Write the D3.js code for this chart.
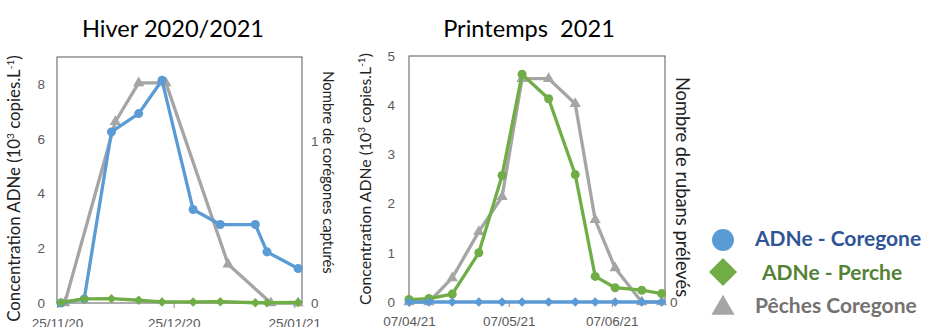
<!DOCTYPE html>
<html>
<head>
<meta charset="utf-8">
<script src="https://cdn.jsdelivr.net/npm/d3@7"></script>
<style>
  body { margin: 0; background: #fff; }
  svg { display: block; font-family: Lato, "Open Sans", sans-serif; }
  .tick text { fill: #595959; font-size: 13.5px; }
  .tick line { stroke: #868686; }
</style>
</head>
<body>
<div id="graph"></div>
<script>
// Hiver 2020/2021
var hiverDates = ["2020-11-26", "2020-12-02", "2020-12-09", "2020-12-16", "2020-12-22",
                  "2020-12-30", "2021-01-06", "2021-01-15", "2021-01-18", "2021-01-26"];
var hiverCoregone = [0, 0.15, 6.26, 6.93, 8.15, 3.42, 2.87, 2.87, 1.87, 1.26];
var hiverPerche = [0.02, 0.15, 0.16, 0.1, 0.04, 0.04, 0.05, 0.01, 0.01, 0.02];
var hiverPecheDates = ["2020-11-27", "2020-12-10", "2020-12-16", "2020-12-23",
                       "2021-01-08", "2021-01-19", "2021-01-26"];
var hiverPeche = [0, 1.12, 1.36, 1.36, 0.24, 0, 0];
var hiverTicks = ["2020-11-25", "2020-12-25", "2021-01-25"];

// Printemps 2021
var printempsDates = ["2021-04-07", "2021-04-13", "2021-04-20", "2021-04-28", "2021-05-05", "2021-05-11",
                      "2021-05-19", "2021-05-27", "2021-06-02", "2021-06-08", "2021-06-16", "2021-06-22"];
var printempsCoregone = [0, 0, 0, 0, 0, 0, 0, 0, 0, 0, 0, 0];
var printempsPerche = [0.05, 0.07, 0.16, 1.0, 2.57, 4.63, 4.13, 2.59, 0.52, 0.29, 0.24, 0.17];
var printempsRubans = [0, 0, 0.49, 1.43, 2.14, 4.54, 4.54, 4.03, 1.67, 0.69, 0, 0];
var printempsTicks = ["2021-04-07", "2021-05-07", "2021-06-07"];

var parse = d3.timeParse("%Y-%m-%d");
var fmt = d3.timeFormat("%d/%m/%y");

var blue = "#5b9bd5", green = "#70ad47", grey = "#a5a5a5";

var svg = d3.select("#graph").append("svg")
    .attr("width", 927)
    .attr("height", 327);

function marker(type, size) {
    if (type == "circle") return d3.symbol().type(d3.symbolCircle).size(size)();
    if (type == "diamond") return d3.symbol().type(d3.symbolSquare).size(size)();
    return d3.symbol().type(d3.symbolTriangle).size(size)();
}

function drawSeries(g, x, y, dates, values, color, type, size) {
    var pts = dates.map(function(d, i) { return {date: parse(d), v: values[i]}; });
    var line = d3.line()
        .x(function(d) { return x(d.date); })
        .y(function(d) { return y(d.v); });
    g.append("path")
        .datum(pts)
        .attr("fill", "none")
        .attr("stroke", color)
        .attr("stroke-width", 3.3)
        .attr("stroke-linejoin", "round")
        .attr("d", line);
    g.selectAll(null)
        .data(pts)
        .enter().append("path")
        .attr("d", marker(type, size))
        .attr("fill", color)
        .attr("transform", function(d) {
            return "translate(" + x(d.date) + "," + y(d.v) + ")" + (type == "diamond" ? " rotate(45)" : "");
        });
}

function yTitle(g, cx, cy, size) {
    var sup = Math.round(size * 0.62);
    var t = g.append("text")
        .attr("transform", "translate(" + cx + "," + cy + ") rotate(-90)")
        .attr("text-anchor", "middle")
        .attr("dy", "0.35em")
        .style("font-size", size + "px")
        .attr("fill", "#222");
    t.append("tspan").text("Concentration ADNe (10");
    t.append("tspan").attr("dy", -6).style("font-size", sup + "px").text("3");
    t.append("tspan").attr("dy", 6).text(" copies.L");
    t.append("tspan").attr("dy", -6).style("font-size", sup + "px").text("-1");
    t.append("tspan").attr("dy", 6).text(")");
}

function chart(c) {
    var g = svg.append("g");
    var x = d3.scaleTime().domain(c.xDomain.map(parse)).range([c.left, c.right]);
    var y = d3.scaleLinear().domain([0, c.yMax]).range([c.bottom, c.top]);
    var y2 = d3.scaleLinear().domain([0, c.y2Max]).range([c.bottom, c.top]);

    // plot box
    g.append("rect")
        .attr("x", c.left).attr("y", c.top)
        .attr("width", c.right - c.left).attr("height", c.bottom - c.top)
        .attr("fill", "none").attr("stroke", "#595959").attr("stroke-width", 1);

    var xa = g.append("g")
        .attr("transform", "translate(0," + c.bottom + ")")
        .call(d3.axisBottom(x).tickValues(c.ticks.map(parse)).tickFormat(fmt).tickSize(5).tickPadding(c.xPad));
    xa.select(".domain").remove();

    var ya = g.append("g")
        .attr("transform", "translate(" + c.left + ",0)")
        .call(d3.axisLeft(y).tickValues(c.yTicks).tickFormat(d3.format("d")).tickSize(0).tickPadding(c.yPad));
    ya.select(".domain").remove();

    var y2a = g.append("g")
        .attr("transform", "translate(" + c.right + ",0)")
        .call(d3.axisRight(y2).tickValues(c.y2Ticks).tickFormat(d3.format("d")).tickSize(0).tickPadding(c.y2Pad));
    y2a.select(".domain").remove();

    // title
    g.append("text")
        .attr("x", c.titleX).attr("y", 36.5)
        .attr("text-anchor", "middle")
        .style("font-size", "23.6px")
        .style("white-space", "pre")
        .attr("fill", "#000")
        .text(c.title);

    yTitle(g, c.yTitleX, c.yTitleY, c.yTitleSize);
    g.append("text")
        .attr("transform", "translate(" + c.y2TitleX + "," + c.y2TitleY + ") rotate(90)")
        .attr("text-anchor", "middle")
        .attr("dy", "0.35em")
        .style("font-size", c.y2TitleSize + "px")
        .attr("fill", "#222")
        .text(c.y2Title);

    c.series.forEach(function(s) {
        drawSeries(g, x, s.axis == 2 ? y2 : y, s.dates, s.values, s.color, s.type, s.size);
    });
}

chart({
    left: 57, right: 302, top: 57, bottom: 303,
    xDomain: ["2020-11-25", "2021-01-27"], ticks: hiverTicks, xPad: 10,
    yMax: 9, yTicks: [0, 2, 4, 6, 8], yPad: 12,
    y2Max: 1.52, y2Ticks: [0, 1], y2Pad: 9,
    title: "Hiver 2020/2021", titleX: 173,
    yTitleX: 14, yTitleY: 188.5, yTitleSize: 16.8,
    y2Title: "Nombre de corégones capturés", y2TitleX: 328, y2TitleY: 172.5, y2TitleSize: 14.8,
    series: [
        {dates: hiverPecheDates, values: hiverPeche, color: grey, type: "triangle", size: 55, axis: 2},
        {dates: hiverDates, values: hiverCoregone, color: blue, type: "circle", size: 64, axis: 1},
        {dates: hiverDates, values: hiverPerche, color: green, type: "diamond", size: 45, axis: 1}
    ]
});

chart({
    left: 409, right: 665, top: 56, bottom: 302,
    xDomain: ["2021-04-07", "2021-06-23"], ticks: printempsTicks, xPad: 9,
    yMax: 5, yTicks: [0, 1, 2, 3, 4, 5], yPad: 14,
    y2Max: 5, y2Ticks: [0], y2Pad: 5,
    title: "Printemps  2021", titleX: 529,
    yTitleX: 365, yTitleY: 179, yTitleSize: 15.8,
    y2Title: "Nombre de rubans prélevés", y2TitleX: 682, y2TitleY: 187, y2TitleSize: 18.3,
    series: [
        {dates: printempsDates, values: printempsRubans, color: grey, type: "triangle", size: 55, axis: 2},
        {dates: printempsDates, values: printempsPerche, color: green, type: "circle", size: 64, axis: 1},
        {dates: printempsDates, values: printempsCoregone, color: blue, type: "diamond", size: 45, axis: 1}
    ]
});

// legend
var legend = [
    {label: "ADNe - Coregone", type: "circle", color: blue, text: "#2f5597", size: 380, my: 240, tx: 755, ty: 246},
    {label: "ADNe - Perche", type: "diamond", color: green, text: "#548235", size: 392, my: 272, tx: 762, ty: 280},
    {label: "Pêches Coregone", type: "triangle", color: grey, text: "#767171", size: 231, my: 308, tx: 755, ty: 313}
];
var lg = svg.append("g");
legend.forEach(function(l) {
    lg.append("path")
        .attr("d", marker(l.type, l.size))
        .attr("fill", l.color)
        .attr("transform", "translate(723," + l.my + ")" + (l.type == "diamond" ? " rotate(45)" : ""));
    lg.append("text")
        .attr("x", l.tx).attr("y", l.ty)
        .style("font-size", "21px")
        .style("font-weight", "bold")
        .attr("fill", l.text)
        .text(l.label);
});
</script>
</body>
</html>
